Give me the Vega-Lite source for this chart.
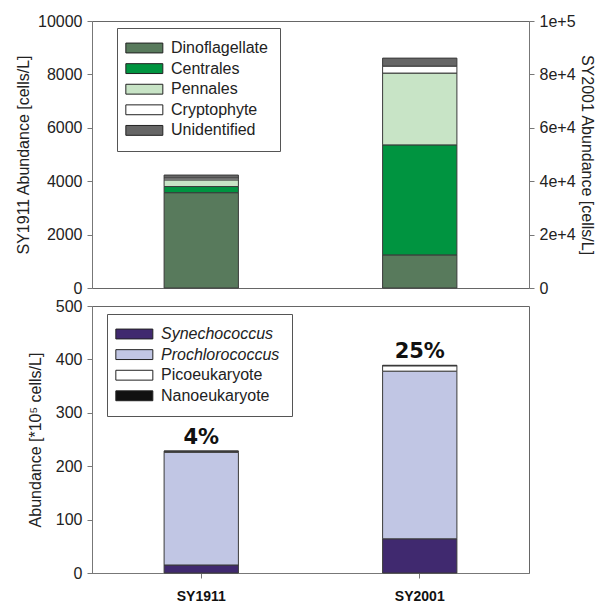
{
  "$schema": "https://vega.github.io/schema/vega-lite/v6.json",
  "background": "white",
  "padding": {"left": 15, "top": 12, "right": 2, "bottom": 0},
  "spacing": 18,
  "bounds": "flush",
  "config": {
    "font": "Liberation Sans",
    "view": {"stroke": "#666666", "strokeWidth": 1},
    "axis": {
      "labelFont": "Liberation Sans", "labelFontSize": 16, "labelColor": "#222222",
      "titleFont": "Liberation Sans", "titleFontSize": 16, "titleFontWeight": "normal", "titleColor": "#222222",
      "domainColor": "#777777", "tickColor": "#777777", "tickSize": 5, "grid": false, "labelPadding": 5, "titlePadding": 6
    },
    "legend": {
      "orient": "none", "title": null,
      "strokeColor": "#555555", "fillColor": "white", "padding": 12,
      "symbolType": "M-1.81,-0.8H4.19V0.8H-1.81Z", "symbolSize": 152,
      "symbolStrokeColor": "#222222", "symbolStrokeWidth": 1,
      "labelFont": "Liberation Sans", "labelFontSize": 16, "labelColor": "#222222",
      "labelOffset": 26, "rowPadding": 4.6
    }
  },
  "datasets": {
    "phyto": [
      {"site": "SY1911", "taxon": "Dinoflagellate", "k": 1, "value": 3570},
      {"site": "SY1911", "taxon": "Centrales", "k": 2, "value": 230},
      {"site": "SY1911", "taxon": "Pennales", "k": 3, "value": 250},
      {"site": "SY1911", "taxon": "Cryptophyte", "k": 4, "value": 70},
      {"site": "SY1911", "taxon": "Unidentified", "k": 5, "value": 110},
      {"site": "SY2001", "taxon": "Dinoflagellate", "k": 1, "value": 12400},
      {"site": "SY2001", "taxon": "Centrales", "k": 2, "value": 41200},
      {"site": "SY2001", "taxon": "Pennales", "k": 3, "value": 26900},
      {"site": "SY2001", "taxon": "Cryptophyte", "k": 4, "value": 2600},
      {"site": "SY2001", "taxon": "Unidentified", "k": 5, "value": 3000}
    ],
    "pico": [
      {"site": "SY1911", "group": "Synechococcus", "k": 1, "value": 15},
      {"site": "SY1911", "group": "Prochlorococcus", "k": 2, "value": 211},
      {"site": "SY1911", "group": "Picoeukaryote", "k": 3, "value": 2},
      {"site": "SY1911", "group": "Nanoeukaryote", "k": 4, "value": 0.5},
      {"site": "SY2001", "group": "Synechococcus", "k": 1, "value": 64},
      {"site": "SY2001", "group": "Prochlorococcus", "k": 2, "value": 314},
      {"site": "SY2001", "group": "Picoeukaryote", "k": 3, "value": 10},
      {"site": "SY2001", "group": "Nanoeukaryote", "k": 4, "value": 1}
    ],
    "pct": [
      {"site": "SY1911", "label": "4%"},
      {"site": "SY2001", "label": "25%"}
    ]
  },
  "resolve": {"scale": {"color": "independent"}},
  "vconcat": [
    {
      "width": 437,
      "height": 267,
      "resolve": {"scale": {"y": "independent"}},
      "layer": [
        {
          "data": {"name": "phyto"},
          "transform": [{"filter": "datum.site === 'SY1911'"}],
          "mark": {"type": "bar", "stroke": "#3a3a3a", "strokeWidth": 1},
          "encoding": {
            "x": {"field": "site", "type": "nominal", "scale": {"domain": ["SY1911", "SY2001"], "paddingInner": 0.66, "paddingOuter": 0.33}, "axis": null},
            "y": {"field": "value", "type": "quantitative", "stack": "zero", "scale": {"domain": [0, 10000], "nice": false},
                  "axis": {"title": "SY1911 Abundance [cells/L]", "values": [0, 2000, 4000, 6000, 8000, 10000], "format": "d"}},
            "color": {"field": "taxon", "type": "nominal",
                      "scale": {"domain": ["Dinoflagellate", "Centrales", "Pennales", "Cryptophyte", "Unidentified"],
                                "range": ["#587a5c", "#009440", "#c8e4c6", "#ffffff", "#666666"]},
                      "legend": {"legendX": 25, "legendY": 7, "labelExpr": "datum.label + '\u00a0\u00a0'"}},
            "order": {"field": "k", "type": "quantitative"}
          }
        },
        {
          "data": {"name": "phyto"},
          "transform": [{"filter": "datum.site === 'SY2001'"}],
          "mark": {"type": "bar", "stroke": "#3a3a3a", "strokeWidth": 1},
          "encoding": {
            "x": {"field": "site", "type": "nominal", "scale": {"domain": ["SY1911", "SY2001"], "paddingInner": 0.66, "paddingOuter": 0.33}, "axis": null},
            "y": {"field": "value", "type": "quantitative", "stack": "zero", "scale": {"domain": [0, 100000], "nice": false},
                  "axis": {"orient": "right", "title": "SY2001 Abundance [cells/L]", "titlePadding": 3, "values": [0, 20000, 40000, 60000, 80000, 100000],
                           "labelExpr": "datum.value === 0 ? '0' : format(datum.value, '.0e')"}},
            "color": {"field": "taxon", "type": "nominal",
                      "scale": {"domain": ["Dinoflagellate", "Centrales", "Pennales", "Cryptophyte", "Unidentified"],
                                "range": ["#587a5c", "#009440", "#c8e4c6", "#ffffff", "#666666"]},
                      "legend": {"legendX": 25, "legendY": 7, "labelExpr": "datum.label + '\u00a0\u00a0'"}},
            "order": {"field": "k", "type": "quantitative"}
          }
        }
      ]
    },
    {
      "width": 437,
      "height": 267,
      "layer": [
        {
          "data": {"name": "pico"},
          "mark": {"type": "bar", "stroke": "#3a3a3a", "strokeWidth": 1},
          "encoding": {
            "x": {"field": "site", "type": "nominal", "scale": {"domain": ["SY1911", "SY2001"], "paddingInner": 0.66, "paddingOuter": 0.33},
                  "axis": {"title": null, "labelAngle": 0, "labelFontWeight": "bold", "labelFontSize": 14, "labelPadding": 11, "labelColor": "#111111"}},
            "y": {"field": "value", "type": "quantitative", "stack": "zero", "scale": {"domain": [0, 500], "nice": false},
                  "axis": {"title": "Abundance [*10⁵ cells/L]", "titlePadding": 12, "values": [0, 100, 200, 300, 400, 500]}},
            "color": {"field": "group", "type": "nominal",
                      "scale": {"domain": ["Synechococcus", "Prochlorococcus", "Picoeukaryote", "Nanoeukaryote"],
                                "range": ["#40296f", "#c1c6e4", "#ffffff", "#111111"]},
                      "legend": {"legendX": 15, "legendY": 8, "labelExpr": "datum.label + '\u00a0\u00a0\u00a0\u00a0'",
                                 "encode": {"labels": {"update": {"fontStyle": {"signal": "datum.value === 'Synechococcus' || datum.value === 'Prochlorococcus' ? 'italic' : 'normal'"}}}}}},
            "order": {"field": "k", "type": "quantitative"}
          }
        },
        {
          "data": {"name": "pico"},
          "transform": [
            {"aggregate": [{"op": "sum", "field": "value", "as": "total"}], "groupby": ["site"]},
            {"lookup": "site", "from": {"data": {"name": "pct"}, "key": "site", "fields": ["label"]}}
          ],
          "mark": {"type": "text", "font": "DejaVu Sans", "fontWeight": "bold", "fontSize": 21, "baseline": "bottom", "dy": -3, "color": "#111111"},
          "encoding": {
            "x": {"field": "site", "type": "nominal"},
            "y": {"field": "total", "type": "quantitative", "title": "Abundance [*10⁵ cells/L]"},
            "text": {"field": "label"}
          }
        }
      ]
    }
  ]
}
